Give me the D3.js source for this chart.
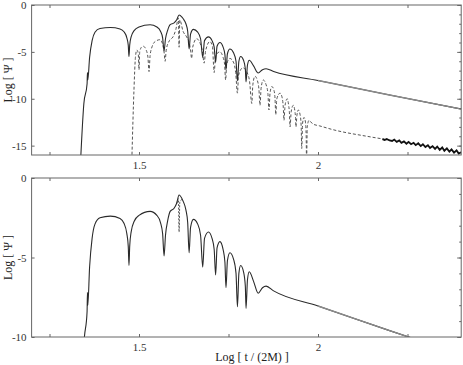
<!DOCTYPE html>
<html>
<head>
<meta charset="utf-8">
<script src="https://cdn.jsdelivr.net/npm/d3@7"></script>
<style>
  html, body { margin: 0; padding: 0; background: #fff; }
  svg { display: block; }
</style>
</head>
<body>
<svg id="chart" width="463" height="365"></svg>
<script>
// [log t/(2M), log |psi|] pairs
const solidWave = [
  [1.337, -16.5], [1.346, -10.5], [1.355, -8.4], [1.356, -7.2], [1.357, -8.0], [1.362, -5.6], [1.369, -3.8],
  [1.377, -2.9], [1.391, -2.5], [1.42, -2.4], [1.447, -2.55], [1.458, -2.85], [1.466, -3.5], [1.470, -4.3], [1.472, -5.5],
  [1.474, -4.3], [1.478, -3.4], [1.487, -2.7], [1.50, -2.35], [1.531, -2.1], [1.55, -2.35], [1.560, -2.8], [1.566, -3.5],
  [1.570, -4.9], [1.574, -3.6], [1.58, -2.7], [1.587, -2.1], [1.598, -1.9], [1.605, -1.6], [1.612, -1.07],
  [1.62, -1.3], [1.624, -1.5], [1.631, -2.0], [1.636, -2.8], [1.640, -4.7], [1.644, -3.1], [1.652, -2.6],
  [1.664, -2.9], [1.672, -3.6], [1.678, -5.6], [1.683, -3.8], [1.694, -3.4], [1.704, -3.8], [1.710, -4.5],
  [1.714, -6.1], [1.718, -4.4], [1.726, -4.0], [1.735, -4.5], [1.740, -5.3], [1.743, -6.9], [1.747, -5.2],
  [1.754, -4.7], [1.764, -5.1], [1.771, -6.0], [1.775, -8.1], [1.779, -6.0], [1.784, -5.5], [1.792, -5.9],
  [1.797, -6.8], [1.799, -8.2], [1.803, -6.4], [1.808, -5.9], [1.82, -6.5], [1.833, -7.25], [1.845, -6.9],
  [1.855, -6.8], [1.876, -7.1], [2.0, -8.05], [2.2, -9.6], [2.4, -11.1]
];

const dashedWave = [
  [1.480, -16.5], [1.486, -9.0], [1.490, -5.6], [1.494, -4.8], [1.498, -5.2], [1.500, -6.9], [1.502, -5.0],
  [1.507, -4.5], [1.512, -4.4], [1.520, -4.8], [1.525, -5.6], [1.528, -7.1], [1.531, -5.4], [1.537, -4.4],
  [1.545, -3.9], [1.559, -3.7], [1.566, -4.2], [1.570, -5.0], [1.573, -6.0], [1.576, -4.8], [1.585, -3.8],
  [1.595, -3.4], [1.603, -2.6], [1.610, -1.4], [1.612, -4.5], [1.614, -1.6], [1.623, -2.8], [1.633, -3.4],
  [1.640, -4.0], [1.644, -4.8], [1.647, -5.7], [1.650, -4.5], [1.661, -3.6], [1.671, -4.1], [1.677, -4.9],
  [1.682, -6.2], [1.686, -4.9], [1.698, -3.9], [1.705, -4.4], [1.710, -7.2], [1.714, -5.4], [1.726, -5.0],
  [1.735, -5.6], [1.739, -6.3], [1.742, -8.0], [1.745, -6.3], [1.754, -5.7], [1.765, -6.2], [1.770, -7.2],
  [1.775, -9.4], [1.778, -7.5], [1.790, -6.7], [1.802, -7.2], [1.809, -8.2], [1.815, -10.5], [1.818, -8.5],
  [1.824, -7.6], [1.831, -8.1], [1.835, -9.0], [1.838, -10.7], [1.841, -8.9], [1.847, -8.0], [1.855, -8.5],
  [1.860, -9.4], [1.863, -11.2], [1.866, -9.4], [1.871, -8.7], [1.877, -9.1], [1.880, -10.0], [1.882, -11.7],
  [1.885, -10.0], [1.894, -9.4], [1.900, -9.9], [1.903, -10.9], [1.905, -12.3], [1.908, -10.7], [1.914, -10.0],
  [1.918, -10.7], [1.920, -11.4], [1.922, -13.0], [1.925, -11.4], [1.931, -10.7], [1.935, -11.2], [1.937, -11.9],
  [1.9385, -13.0], [1.941, -11.8], [1.945, -11.2], [1.950, -11.7], [1.953, -12.9], [1.9545, -15.3], [1.957, -12.6],
  [1.961, -12.0], [1.965, -12.5], [1.967, -14.0], [1.968, -17.0], [1.970, -13.0], [1.975, -12.3], [1.978, -12.4],
  [1.986, -12.7], [2.005, -12.9], [2.042, -13.3], [2.136, -14.0], [2.200, -14.4]
];

// noisy late-time part of the dashed signal
const noisyTail = [
  [2.180, -14.3], [2.186, -14.4], [2.192, -14.3], [2.200, -14.45], [2.207, -14.5], [2.213, -14.35],
  [2.220, -14.6], [2.227, -14.45], [2.233, -14.7], [2.240, -14.55], [2.247, -14.8], [2.253, -14.6],
  [2.260, -14.85], [2.267, -14.7], [2.273, -14.95], [2.280, -14.75], [2.287, -15.05], [2.293, -14.85],
  [2.300, -15.15], [2.307, -14.95], [2.313, -15.25], [2.320, -15.05], [2.327, -15.35], [2.333, -15.1],
  [2.340, -15.45], [2.347, -15.2], [2.353, -15.55], [2.360, -15.3], [2.367, -15.65], [2.373, -15.4],
  [2.380, -15.75], [2.387, -15.5], [2.393, -15.85], [2.400, -15.7]
];

// dashed curve in the lower panel only shows apart from the solid one at the main peak
const lowerDashedPeak = [[1.606, -1.6], [1.610, -1.3], [1.612, -3.4], [1.614, -1.5], [1.620, -1.35]];

const timeTicks = [1.25, 1.5, 1.75, 2, 2.25];
const timeLabels = [1.5, 2];
const topPsiLabels = [0, -5, -10, -15];
const bottomPsiLabels = [0, -5, -10];

const svg = d3.select('#chart');
const font = 'Liberation Serif, Times New Roman, serif';

const x = d3.scaleLinear().domain([1.2, 2.4]).range([31.6, 461.2]);

const panels = [
  { id: 'top', y: d3.scaleLinear().domain([-16, 0]).range([155, 5]), labels: topPsiLabels },
  { id: 'bottom', y: d3.scaleLinear().domain([-10, 0]).range([337, 178]), labels: bottomPsiLabels }
];

panels.forEach(p => {
  const [y0, y1] = p.y.range();
  const g = svg.append('g');

  g.append('clipPath').attr('id', 'clip-' + p.id)
    .append('rect')
    .attr('x', x.range()[0]).attr('y', y1)
    .attr('width', x.range()[1] - x.range()[0]).attr('height', y0 - y1);

  const line = d3.line().curve(d3.curveMonotoneX).x(d => x(d[0])).y(d => p.y(d[1]));
  const plot = g.append('g').attr('clip-path', `url(#clip-${p.id})`);

  if (p.id === 'top') {
    plot.append('path').datum(dashedWave)
      .attr('d', line).attr('fill', 'none')
      .attr('stroke', '#555').attr('stroke-width', 1)
      .attr('stroke-dasharray', '3,2');
    plot.append('path').datum(noisyTail)
      .attr('d', d3.line().x(d => x(d[0])).y(d => p.y(d[1])))
      .attr('fill', 'none')
      .attr('stroke', '#111').attr('stroke-width', 1.8);
  } else {
    plot.append('path').datum(lowerDashedPeak)
      .attr('d', line).attr('fill', 'none')
      .attr('stroke', '#555').attr('stroke-width', 1)
      .attr('stroke-dasharray', '2,1.5');
  }

  plot.append('path').datum(solidWave)
    .attr('d', line).attr('fill', 'none')
    .attr('stroke', '#2a2a2a').attr('stroke-width', 1.1);

  // late-time tail is drawn lighter on top
  plot.append('path').datum(solidWave.filter(d => d[0] >= 1.95))
    .attr('d', line).attr('fill', 'none')
    .attr('stroke', '#8a8a8a').attr('stroke-width', 1.4);

  // axes (ticks point inward)
  g.append('g')
    .attr('transform', `translate(0, ${y0})`)
    .call(d3.axisBottom(x).tickValues(timeTicks).tickSize(-3).tickPadding(6)
      .tickFormat(d => timeLabels.includes(d) ? String(d) : ''));

  g.append('g')
    .attr('transform', `translate(0, ${y1})`)
    .call(d3.axisTop(x).tickValues(timeTicks).tickSize(-3).tickFormat(''));

  g.append('g')
    .attr('transform', `translate(${x.range()[0]}, 0)`)
    .call(d3.axisLeft(p.y).tickValues(p.labels).tickSize(-3).tickPadding(5)
      .tickFormat(d => String(d)));

  const lo = p.y.domain()[0];
  g.append('g')
    .attr('transform', `translate(${x.range()[1]}, 0)`)
    .call(d3.axisRight(p.y).tickValues(d3.range(lo + 1, 0)).tickSize(-2).tickFormat(''));
  g.append('g')
    .attr('transform', `translate(${x.range()[1]}, 0)`)
    .call(d3.axisRight(p.y).tickValues(p.labels).tickSize(-4).tickFormat(''));

  g.selectAll('.domain').remove();
  g.selectAll('.tick line').attr('stroke', '#666');
  g.selectAll('.tick text')
    .attr('font-family', font).attr('font-size', 11).attr('fill', '#333');

  g.append('rect')
    .attr('x', x.range()[0]).attr('y', y1)
    .attr('width', x.range()[1] - x.range()[0]).attr('height', y0 - y1)
    .attr('fill', 'none').attr('stroke', '#666').attr('stroke-width', 1);

  g.append('text')
    .attr('transform', `translate(12, ${(y0 + y1) / 2}) rotate(-90)`)
    .attr('text-anchor', 'middle')
    .attr('font-family', font).attr('font-size', 12).attr('fill', '#222')
    .text('Log [ Ψ ]');
});

svg.append('text')
  .attr('x', 252).attr('y', 361)
  .attr('text-anchor', 'middle')
  .attr('font-family', font).attr('font-size', 12).attr('fill', '#222')
  .text('Log [ t / (2M) ]');
</script>
</body>
</html>
